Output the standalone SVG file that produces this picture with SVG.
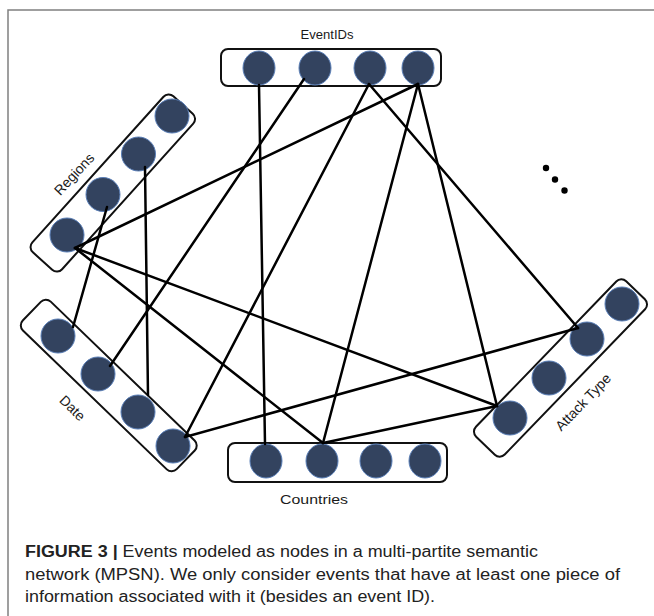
<svg xmlns="http://www.w3.org/2000/svg" width="654" height="616" viewBox="0 0 654 616">
<defs>
<style>
.frame{fill:none;stroke:#808080;stroke-width:1.5}
.box{fill:#fff;stroke:#111;stroke-width:2}
.nd{fill:#33435f;stroke:#5a7fb8;stroke-width:1}
.edge{stroke:#000;stroke-width:2.5;stroke-linecap:round;fill:none}
.lbl{font-family:"Liberation Sans",Arial,sans-serif;font-size:13.5px;fill:#1a1a1a;text-anchor:middle}
.rl{font-size:14px}
.cap{font-family:"Liberation Sans",Arial,sans-serif;font-size:16px;fill:#222}
.dot{fill:#000}
</style>
</defs>
<rect width="654" height="616" fill="#fff"/>
<rect class="frame" x="8" y="10" width="700" height="700"/>

<g id="eventids">
<rect class="box" x="221" y="49" width="220" height="37" rx="7"/>
<ellipse class="nd" cx="259" cy="68" rx="16" ry="17"/>
<ellipse class="nd" cx="315" cy="68" rx="16" ry="17"/>
<ellipse class="nd" cx="370" cy="68" rx="16" ry="17"/>
<ellipse class="nd" cx="418" cy="68" rx="16" ry="17"/>
<text class="lbl" x="327" y="39" textLength="53" lengthAdjust="spacingAndGlyphs">EventIDs</text>
</g>

<g id="regions">
<rect class="box" x="-105" y="-20" width="210" height="40" rx="7" transform="translate(112.8,183) rotate(-48)"/>
<circle class="nd" cx="67" cy="235" r="17"/>
<circle class="nd" cx="103" cy="194.5" r="17"/>
<circle class="nd" cx="138.5" cy="154" r="17"/>
<circle class="nd" cx="172" cy="116" r="17"/>
<text class="lbl rl" transform="translate(74,174) rotate(-47)" x="0" y="5">Regions</text>
</g>

<g id="date">
<rect class="box" x="-107" y="-20" width="214" height="40" rx="7" transform="translate(108.75,385.5) rotate(44)"/>
<circle class="nd" cx="58" cy="336" r="17"/>
<circle class="nd" cx="98" cy="374" r="17"/>
<circle class="nd" cx="138" cy="412" r="17"/>
<circle class="nd" cx="173" cy="446" r="17"/>
<text class="lbl rl" transform="translate(72.5,408) rotate(44)" x="0" y="5">Date</text>
</g>

<g id="attacktype">
<rect class="box" x="-108" y="-20" width="216" height="40" rx="7" transform="translate(560.5,368) rotate(-46)"/>
<circle class="nd" cx="510" cy="418" r="17"/>
<circle class="nd" cx="549" cy="378" r="17"/>
<circle class="nd" cx="587" cy="339" r="17"/>
<circle class="nd" cx="622" cy="304" r="17"/>
<text class="lbl rl" transform="translate(583,402) rotate(-46)" x="0" y="5">Attack Type</text>
</g>

<g id="countries">
<rect class="box" x="228" y="443" width="219" height="39" rx="7"/>
<ellipse class="nd" cx="266" cy="461" rx="16" ry="17"/>
<ellipse class="nd" cx="322" cy="461" rx="16" ry="17"/>
<ellipse class="nd" cx="376" cy="461" rx="16" ry="17"/>
<ellipse class="nd" cx="425" cy="461" rx="16" ry="17"/>
<text class="lbl" x="314" y="504" textLength="68" lengthAdjust="spacingAndGlyphs">Countries</text>
</g>

<g id="connectors">
<line class="edge" x1="259" y1="85" x2="265" y2="444"/>
<line class="edge" x1="304" y1="79" x2="110" y2="366"/>
<line class="edge" x1="369" y1="84" x2="185" y2="437"/>
<line class="edge" x1="369" y1="84" x2="578" y2="328"/>
<line class="edge" x1="418" y1="84" x2="75" y2="248"/>
<line class="edge" x1="418" y1="84" x2="323" y2="443"/>
<line class="edge" x1="418" y1="84" x2="497" y2="406"/>
<line class="edge" x1="75" y1="248" x2="497" y2="406"/>
<line class="edge" x1="75" y1="248" x2="323" y2="443"/>
<line class="edge" x1="107" y1="207" x2="73" y2="327"/>
<line class="edge" x1="145" y1="167" x2="148" y2="395"/>
<line class="edge" x1="323" y1="443" x2="497" y2="406"/>
<line class="edge" x1="185" y1="437" x2="578" y2="328"/>
</g>

<g id="ellipsis">
<circle class="dot" cx="546" cy="168" r="3.2"/>
<circle class="dot" cx="555" cy="179.5" r="3.2"/>
<circle class="dot" cx="564.5" cy="190.5" r="3.2"/>
</g>

<g id="caption">
<text class="cap" x="25" y="557" textLength="513" lengthAdjust="spacingAndGlyphs"><tspan font-weight="bold">FIGURE 3 |</tspan> Events modeled as nodes in a multi-partite semantic</text>
<text class="cap" x="25" y="580" textLength="595" lengthAdjust="spacingAndGlyphs">network (MPSN). We only consider events that have at least one piece of</text>
<text class="cap" x="25" y="602" textLength="410" lengthAdjust="spacingAndGlyphs">information associated with it (besides an event ID).</text>
</g>
</svg>
